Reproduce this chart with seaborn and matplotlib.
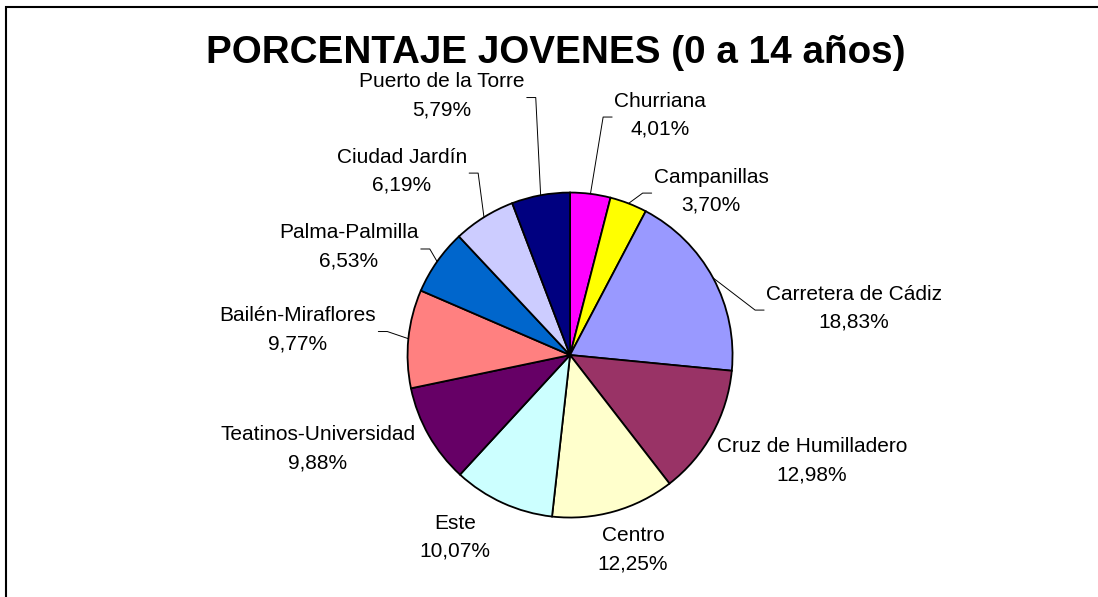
import matplotlib
matplotlib.use("Agg")
import numpy as np
import matplotlib.pyplot as plt
import seaborn as sns
from matplotlib.patches import Rectangle

# datos (orden horario desde las 12)
barrios = ["Churriana", "Campanillas", "Carretera de Cádiz", "Cruz de Humilladero",
           "Centro", "Este", "Teatinos-Universidad", "Bailén-Miraflores",
           "Palma-Palmilla", "Ciudad Jardín", "Puerto de la Torre"]
porcentajes = [4.01, 3.70, 18.83, 12.98, 12.25, 10.07, 9.88, 9.77, 6.53, 6.19, 5.79]
colores = ["#FF00FF", "#FFFF00", "#9999FF", "#993366", "#FFFFCC", "#CCFFFF",
           "#660066", "#FF8080", "#0066CC", "#CCCCFF", "#000080"]

titulo = "PORCENTAJE JOVENES (0 a 14 años)"

# posicion de las etiquetas (radio de la tarta = 1) y si llevan linea guia
pos_etiquetas = [(0.554, 1.477), (0.868, 1.009), (1.748, 0.289), (1.489, -0.652),
                 (0.388, -1.197), (-0.708, -1.12), (-1.551, -0.578), (-1.674, 0.157),
                 (-1.360, 0.665), (-1.034, 1.132), (-0.788, 1.597)]
con_guia = [True, True, True, False, False, False, False, True, True, True, True]

sns.set_theme(style="white")
plt.rcParams["font.family"] = ["Liberation Sans", "DejaVu Sans"]
plt.rcParams["text.color"] = "black"

fig = plt.figure(figsize=(10.98, 5.97), dpi=100)
ax = fig.add_axes([0, 0, 1, 1])

wedges, _ = ax.pie(porcentajes, colors=colores, startangle=90, counterclock=False,
                   wedgeprops=dict(edgecolor="black", linewidth=1.3))
ax.set_aspect("auto")
ax.set_xlim(-3.508, 3.249)
ax.set_ylim(-1.489, 2.185)
ax.axis("off")

textos = []
for nombre, pct, (x, y) in zip(barrios, porcentajes, pos_etiquetas):
    etiqueta = f"{nombre}\n" + f"{pct:.2f}%".replace(".", ",")
    t = ax.text(x, y, etiqueta, ha="center", va="center", fontsize=15,
                linespacing=1.6, color="black")
    textos.append(t)

# lineas guia
fig.canvas.draw()
renderer = fig.canvas.get_renderer()
inv = ax.transData.inverted()
for w, t, guia in zip(wedges, textos, con_guia):
    if not guia:
        continue
    ang = np.deg2rad((w.theta1 + w.theta2) / 2)
    px, py = ax.transData.transform((np.cos(ang), np.sin(ang)))
    bb = t.get_window_extent(renderer)
    yc = (bb.y0 + bb.y1) / 2 - 2
    if (bb.x0 + bb.x1) / 2 < px:
        borde, paso = bb.x1 + 2, 9
    else:
        borde, paso = bb.x0 - 2, -9
    pts = inv.transform([(px, py), (borde + paso, yc), (borde, yc)])
    ax.plot(pts[:, 0], pts[:, 1], color="black", lw=0.7)

fig.text(556 / 1098, 1 - 63 / 597, titulo, ha="center", va="baseline",
         fontsize=27.8, fontweight="bold", color="black")

fig.add_artist(Rectangle((5.5 / 1098, -0.05), 1.1, 1 - 7 / 597 + 0.05,
                         transform=fig.transFigure, fill=False,
                         edgecolor="black", lw=1.5))

fig.savefig("out.png", dpi=100)
